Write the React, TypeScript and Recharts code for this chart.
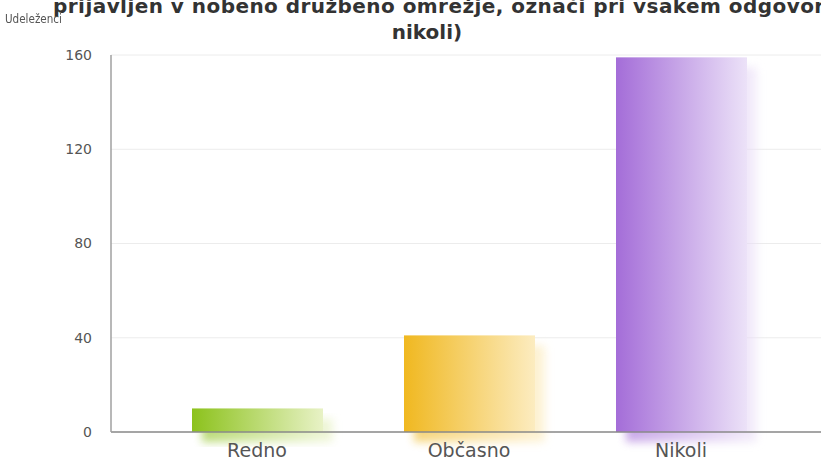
import { BarChart, Bar, XAxis, YAxis, CartesianGrid } from 'recharts'

// Odgovori in število udeležencev
const categories = ['Redno', 'Občasno', 'Nikoli']
const participants = [10, 41, 159]
const yTicks = [0, 40, 80, 120, 160]

const titleLine1 = 'prijavljen v nobeno družbeno omrežje, označi pri vsakem odgovoru'
const titleLine2 = 'nikoli)'
const yLabel = 'Udeleženci'

// barve: [nasičena leva, bleda desna]
const GRADIENTS = [
  ['#8cc21c', '#e8f2c6'],
  ['#f0b820', '#fcecc0'],
  ['#a46dd8', '#ece2f8'],
]

const FONT = '"DejaVu Sans", sans-serif'
const TEXT = '#555555'

const data = categories.map((name, i) => ({ name, value: participants[i] }))

function GlossyBar(props: any) {
  const { x, y, width, height, index } = props
  if (!height || height <= 0) return null
  const [c1, c2] = GRADIENTS[index % GRADIENTS.length]
  const id = `bar-grad-${index}`
  const fid = `bar-blur-${index}`
  return (
    <g>
      <defs>
        <linearGradient id={id} x1="0" y1="0" x2="1" y2="0">
          <stop offset="0%" stopColor={c1} />
          <stop offset="100%" stopColor={c2} />
        </linearGradient>
        <filter id={fid} x="-20%" y="-20%" width="140%" height="140%">
          <feGaussianBlur stdDeviation="4" />
        </filter>
      </defs>
      {/* mehka senca, zamaknjena desno in navzdol */}
      <rect x={x + 10} y={y + 10} width={width} height={height}
        fill={`url(#${id})`} opacity={0.6} filter={`url(#${fid})`} />
      <rect x={x} y={y} width={width} height={height} fill={`url(#${id})`} />
    </g>
  )
}

export default function App() {
  return (
    <div style={s.wrap}>
      <div style={s.title1}>{titleLine1}</div>
      <div style={s.title2}>{titleLine2}</div>
      <div style={s.yLabel}>{yLabel}</div>
      <BarChart width={821} height={462} data={data}
        margin={{ top: 55, right: 0, bottom: 0, left: 0 }}>
        <CartesianGrid vertical={false} stroke="#ececec" />
        <XAxis dataKey="name" height={30} tickLine={false} tickMargin={6}
          padding={{ left: 40, right: 34 }}
          axisLine={{ stroke: '#8a8a8a', strokeWidth: 1.5 }}
          tick={{ fontSize: 19, fill: TEXT, fontFamily: FONT }} />
        <YAxis width={111} domain={[0, 160]} ticks={yTicks} tickLine={false}
          tickMargin={13} axisLine={{ stroke: '#a0a0a0', strokeWidth: 1.5 }}
          tick={{ fontSize: 14, fill: TEXT, fontFamily: FONT }} />
        <Bar dataKey="value" barSize={131} shape={GlossyBar}
          isAnimationActive={false} />
      </BarChart>
    </div>
  )
}

const titleBase: React.CSSProperties = {
  position: 'absolute', fontFamily: FONT, fontWeight: 700, fontSize: 20,
  lineHeight: '26px', color: '#333333', whiteSpace: 'nowrap',
}

const s: Record<string, React.CSSProperties> = {
  wrap: {
    position: 'absolute', left: 0, top: 0, width: 821, height: 462,
    overflow: 'hidden', background: '#ffffff',
  },
  title1: { ...titleBase, left: 53, top: -7, letterSpacing: '0.45px' },
  title2: { ...titleBase, left: 0, top: 19, width: 854, textAlign: 'center' },
  yLabel: {
    position: 'absolute', left: 5, top: 11, zIndex: 1,
    fontFamily: FONT, fontSize: 13, color: TEXT,
    transform: 'scaleX(0.8)', transformOrigin: 'left top',
  },
}
